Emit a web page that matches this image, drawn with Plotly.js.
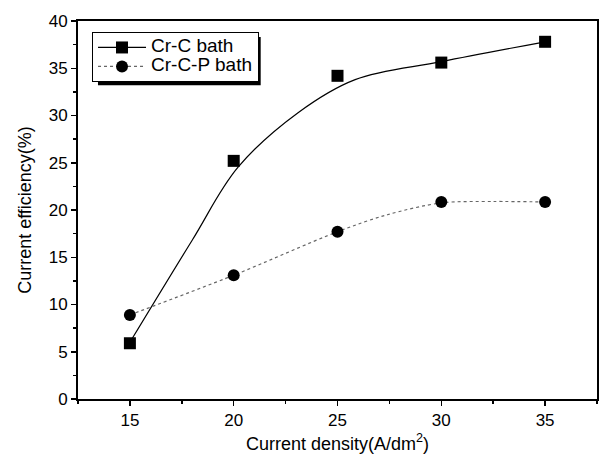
<!DOCTYPE html>
<html>
<head>
<meta charset="utf-8">
<script src="https://cdn.plot.ly/plotly-3.0.1.min.js"></script>
<style>html,body{margin:0;padding:0;background:#fff;}#chart{width:600px;height:461px;}</style>
</head>
<body>
<div id="chart"></div>
<script>
// Measured data points
const currentDensity = [15, 20, 25, 30, 35];
const crCBath = [5.9, 25.2, 34.2, 35.6, 37.8];
const crCPBath = [8.9, 13.1, 17.7, 20.85, 20.85];
// Fitted curves
const crCCurveX = [15, 18.0, 20.2, 23.1, 25.85, 30, 35];
const crCCurveY = [6.0, 16.8, 24.5, 30.3, 33.8, 35.7, 37.8];
const crCPCurveX = [15, 20, 25, 27.4, 30, 32.5, 35];
const crCPCurveY = [8.9, 13.1, 17.7, 19.5, 20.75, 20.9, 20.85];
const seriesNames = ['Cr-C bath', 'Cr-C-P bath'];
const xTicks = [15, 20, 25, 30, 35];
const yTicks = [0, 5, 10, 15, 20, 25, 30, 35, 40];

const fam = 'Liberation Sans, Arial, sans-serif';
const c1 = {line: {color: '#000', width: 1.2}, marker: {symbol: 'square', size: 12, color: '#000'}};
const c2 = {line: {color: '#666', width: 1.2, dash: 'dot'}, marker: {symbol: 'circle', size: 12, color: '#000'}};
const legendLabel = s => '<span style="font-size:19px">' + s + '</span>';

const traces = [
  {x: crCCurveX, y: crCCurveY, type: 'scatter', mode: 'lines', showlegend: false, hoverinfo: 'skip',
   line: Object.assign({shape: 'spline', smoothing: 1}, c1.line)},
  {x: crCPCurveX, y: crCPCurveY, type: 'scatter', mode: 'lines', showlegend: false, hoverinfo: 'skip',
   line: Object.assign({shape: 'spline', smoothing: 0.9}, c2.line)},
  {x: currentDensity, y: crCBath, type: 'scatter', mode: 'markers', showlegend: false, marker: c1.marker},
  {x: currentDensity, y: crCPBath, type: 'scatter', mode: 'markers', showlegend: false, marker: c2.marker},
  // legend entries (line + marker symbol)
  {x: [null], y: [null], name: legendLabel(seriesNames[0]), type: 'scatter', mode: 'lines+markers', line: c1.line, marker: c1.marker},
  {x: [null], y: [null], name: legendLabel(seriesNames[1]), type: 'scatter', mode: 'lines+markers', line: c2.line, marker: c2.marker}
];

const axisCommon = {
  showgrid: false, zeroline: false, showline: true, linecolor: '#000', linewidth: 2,
  mirror: true, ticks: 'outside', ticklen: 5, tickwidth: 1.5, tickcolor: '#000',
  tickfont: {family: fam, size: 17, color: '#000'}, automargin: false
};

const layout = {
  width: 600, height: 461,
  margin: {l: 78, r: 3, t: 21, b: 62},
  paper_bgcolor: '#fff', plot_bgcolor: '#fff',
  font: {family: fam, color: '#000'},
  showlegend: true,
  legend: {
    x: 0.027, y: 0.971, xanchor: 'left', yanchor: 'top',
    bgcolor: '#fff', bordercolor: '#000', borderwidth: 1,
    font: {family: fam, size: 12, color: '#000'},
    tracegroupgap: 0, itemwidth: 48
  },
  xaxis: Object.assign({}, axisCommon, {
    range: [12.5, 37.5], tickvals: xTicks, ticktext: xTicks.map(String),
    minor: {dtick: 2.5, tick0: 12.5, ticks: 'outside', ticklen: 3, tickcolor: '#000', tickwidth: 1.5},
    title: {text: 'Current density(A/dm<sup>2</sup>)', font: {family: fam, size: 18, color: '#000'}, standoff: 8}
  }),
  yaxis: Object.assign({}, axisCommon, {
    range: [0, 40], tickvals: yTicks, ticktext: yTicks.map(String),
    minor: {dtick: 2.5, tick0: 0, ticks: 'outside', ticklen: 3, tickcolor: '#000', tickwidth: 1.5},
    title: {text: 'Current efficiency(%)', font: {family: fam, size: 18, color: '#000'}, standoff: 12}
  }),
  shapes: [
    {type: 'rect', xref: 'paper', yref: 'paper', x0: 0.0385, x1: 0.352, y0: 0.83, y1: 0.958,
     fillcolor: '#000', line: {width: 0}, layer: 'above'}
  ]
};

Plotly.newPlot('chart', traces, layout, {displayModeBar: false, staticPlot: true});
</script>
</body>
</html>
